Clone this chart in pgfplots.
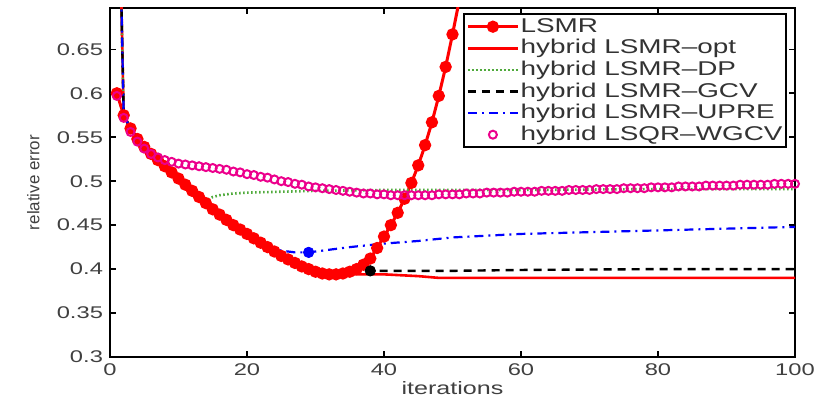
\documentclass[border=0pt]{standalone}
\usepackage{fontspec}
\setmainfont{Liberation Sans}[FakeStretch=1.4]
\newfontfamily\plainsans{Liberation Sans}
\usepackage{pgfplots}
\pgfplotsset{compat=1.18}
\definecolor{dpgreen}{RGB}{80,170,60}
\begin{document}
\begin{tikzpicture}
\begin{axis}[
  at={(0,0)}, anchor=south west,
  scale only axis, width=342.5bp, height=174.5bp,
  xmin=0, xmax=100, ymin=0.3, ymax=0.697,
  xtick={0,20,40,60,80,100},
  ytick={0.3,0.35,0.4,0.45,0.5,0.55,0.6,0.65},
  yticklabels={0.3,0.35,0.4,0.45,0.5,0.55,0.6,0.65},
  /pgf/number format/assume math mode=true,
  tick label style={font=\fontsize{8.5}{10}\selectfont, text=black!75},
  tick align=inside, major tick length=3bp,
  axis line style={line width=1bp},
  every tick/.style={black, line width=0.8bp},
  xlabel={iterations},
  ylabel={relative error},
  xlabel style={font=\fontsize{9}{10}\selectfont, text=black!75, at={(axis description cs:0.5,-0.07)}, anchor=north, inner sep=0pt},
  ylabel style={font=\plainsans\fontsize{8.5}{10}\selectfont, text=black!75, at={(axis description cs:-0.112,0.5)}, anchor=center, inner sep=0pt},
  legend cell align=left,
  legend style={at={(rel axis cs:0.988,0.986)}, anchor=north east, draw=black, line width=1bp, fill=white,
    font=\fontsize{10}{10}\selectfont, text=black!80, inner xsep=1bp, inner ysep=1bp,
    nodes={inner sep=0.6bp, text height=7.6bp, text depth=2bp}},
  legend image code/.code={\draw[mark repeat=2,mark phase=2,#1] plot coordinates {(0bp,0bp) (12.5bp,0bp) (25bp,0bp)};},
]
% LSMR
\addplot[red, line width=1.5bp, mark=*, mark size=2.3bp, mark options={solid, fill=red}] coordinates {
(1,0.600) (2,0.575) (3,0.560) (4,0.548) (5,0.539) (6,0.531) (7,0.524) (8,0.517) (9,0.510) (10,0.503)
(11,0.496) (12,0.489) (13,0.482) (14,0.475) (15,0.468) (16,0.462) (17,0.456) (18,0.450) (19,0.445) (20,0.440)
(21,0.435) (22,0.430) (23,0.425) (24,0.420) (25,0.415) (26,0.411) (27,0.407) (28,0.403) (29,0.400) (30,0.397)
(31,0.395) (32,0.394) (33,0.394) (34,0.395) (35,0.397) (36,0.400) (37,0.405) (38,0.412) (39,0.424) (40,0.437)
(41,0.450) (42,0.464) (43,0.480) (44,0.498) (45,0.518) (46,0.541) (47,0.567) (48,0.597) (49,0.630) (50,0.667)
(51,0.706) (52,0.745)};
\addlegendentry{LSMR}
% hybrid LSMR-opt
\addplot[red, line width=1.3bp] coordinates {
(1,0.95) (2,0.575) (3,0.560) (4,0.548) (5,0.539) (6,0.531) (7,0.524) (8,0.517) (9,0.510) (10,0.503)
(11,0.496) (12,0.489) (13,0.482) (14,0.475) (15,0.468) (16,0.462) (17,0.456) (18,0.450) (19,0.445) (20,0.440)
(21,0.435) (22,0.430) (23,0.425) (24,0.420) (25,0.415) (26,0.411) (27,0.407) (28,0.403) (29,0.400) (30,0.397)
(31,0.395) (32,0.394) (33,0.394) (40,0.394) (45,0.392) (48,0.390) (60,0.390) (80,0.390) (100,0.390)};
\addlegendentry{hybrid LSMR–opt}
% hybrid LSMR-DP
\addplot[dpgreen, line width=1.3bp, dash pattern=on 0.8bp off 1.2bp] coordinates {
(1,0.95) (2,0.575) (3,0.560) (4,0.548) (5,0.539) (6,0.531) (7,0.524) (8,0.517) (9,0.510) (10,0.503)
(11,0.496) (12,0.489) (13,0.482) (14,0.478) (15,0.482) (16,0.484) (18,0.486) (20,0.487) (30,0.489)
(40,0.490) (60,0.490) (80,0.491) (100,0.491)};
\addlegendentry{hybrid LSMR–DP}
% hybrid LSMR-GCV
\addplot[black, line width=1.2bp, dash pattern=on 4bp off 3bp] coordinates {
(1,0.95) (2,0.575) (3,0.560) (4,0.548) (5,0.539) (6,0.531) (7,0.524) (8,0.517) (9,0.510) (10,0.503)
(11,0.496) (12,0.489) (13,0.482) (14,0.475) (15,0.468) (16,0.462) (17,0.456) (18,0.450) (19,0.445) (20,0.441)
(21,0.436) (22,0.431) (23,0.426) (24,0.421) (25,0.417) (26,0.413) (27,0.409) (28,0.405) (29,0.402) (30,0.400)
(32,0.398) (35,0.398) (38,0.398) (50,0.398) (60,0.399) (80,0.400) (100,0.400)};
\addlegendentry{hybrid LSMR–GCV}
% hybrid LSMR-UPRE
\addplot[blue, line width=1.1bp, dash pattern=on 4.5bp off 2.5bp on 1bp off 2.5bp] coordinates {
(1,0.95) (2,0.575) (3,0.560) (4,0.548) (5,0.539) (6,0.531) (7,0.524) (8,0.517) (9,0.510) (10,0.503)
(11,0.496) (12,0.489) (13,0.482) (14,0.475) (15,0.468) (16,0.462) (17,0.456) (18,0.450) (19,0.445) (20,0.441)
(21,0.436) (22,0.431) (23,0.427) (24,0.423) (25,0.421) (26,0.420) (27,0.419) (28,0.419) (29,0.419) (30,0.420)
(35,0.425) (40,0.429) (45,0.432) (50,0.436) (60,0.440) (70,0.442) (80,0.444) (90,0.446) (100,0.448)};
\addlegendentry{hybrid LSMR–UPRE}
% hybrid LSQR-WGCV
\addplot[magenta, only marks, mark=o, mark size=2bp, mark options={line width=1bp}] coordinates {
(1,0.597) (2,0.572) (3,0.556) (4,0.545) (5,0.537) (6,0.531) (7,0.527) (8,0.524) (9,0.522) (10,0.520)
(11,0.519) (12,0.518) (13,0.517) (14,0.516) (15,0.515) (16,0.514) (17,0.513) (18,0.511) (19,0.510) (20,0.508)
(21,0.507) (22,0.505) (23,0.504) (24,0.502) (25,0.500) (26,0.499) (27,0.497) (28,0.496) (29,0.494) (30,0.493)
(31,0.492) (32,0.491) (33,0.490) (34,0.489) (35,0.488) (36,0.487) (37,0.486) (38,0.486) (39,0.485) (40,0.485)
(41,0.484) (42,0.484) (43,0.484) (44,0.484) (45,0.484) (46,0.484) (47,0.484) (48,0.485) (49,0.485) (50,0.485)
(51,0.485) (52,0.486) (53,0.486) (54,0.486) (55,0.487) (56,0.487) (57,0.487) (58,0.487) (59,0.488) (60,0.488)
(61,0.488) (62,0.488) (63,0.489) (64,0.489) (65,0.489) (66,0.489) (67,0.490) (68,0.490) (69,0.490) (70,0.490)
(71,0.491) (72,0.491) (73,0.491) (74,0.491) (75,0.492) (76,0.492) (77,0.492) (78,0.492) (79,0.493) (80,0.493)
(81,0.493) (82,0.493) (83,0.494) (84,0.494) (85,0.494) (86,0.494) (87,0.495) (88,0.495) (89,0.495) (90,0.495)
(91,0.495) (92,0.496) (93,0.496) (94,0.496) (95,0.496) (96,0.496) (97,0.497) (98,0.497) (99,0.497) (100,0.497)};
\addlegendentry{hybrid LSQR–WGCV}
% chosen iterations
\addplot[blue, only marks, mark=*, mark size=2.6bp, forget plot] coordinates {(29,0.419)};
\addplot[black, only marks, mark=*, mark size=2.6bp, forget plot] coordinates {(38,0.398)};
\end{axis}
\pgfresetboundingbox
\path (-55bp,-21bp) rectangle (352.5bp,178.5bp);
\end{tikzpicture}
\end{document}
